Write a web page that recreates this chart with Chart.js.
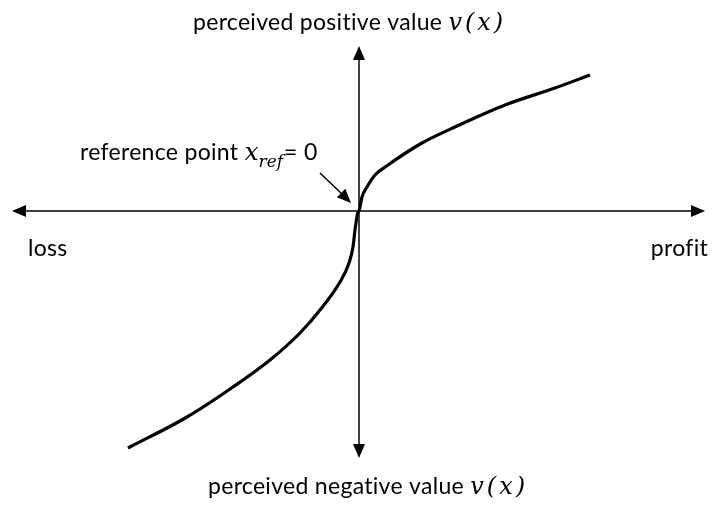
<!DOCTYPE html>
<html>
<head>
<meta charset="utf-8">
<script src="https://cdn.jsdelivr.net/npm/chart.js@4"></script>
<style>
  html, body { margin: 0; padding: 0; background: #fff; }
  #chart { display: block; }
</style>
</head>
<body>
<canvas id="chart" width="713" height="505"></canvas>
<script>
// value function (origin = reference point)
const gainX = [0, 1, 3, 8, 16, 29, 63, 96, 146, 196, 231];
const gainY = [0, 4, 14, 24, 36, 46, 68, 84, 106, 123, 136];
const lossX = [-231, -172, -126, -89, -59, -39, -19, -10, -6, -4, -1];
const lossY = [-237, -206, -176, -149, -122, -99, -71, -52, -36, -19, -1];

const axisRange = { xMin: -359, xMax: 354, yMin: -294, yMax: 211 };
const topLabel = 'perceived positive value ';
const bottomLabel = 'perceived negative value ';
const leftLabel = 'loss';
const rightLabel = 'profit';
const refLabel = 'reference point ';

const points = [];
lossX.forEach((x, i) => points.push({ x: x, y: lossY[i] }));
gainX.forEach((x, i) => points.push({ x: x, y: gainY[i] }));

const sans = 'Lato, "Open Sans", sans-serif';
const serif = '"DejaVu Serif", "Liberation Serif", serif';
const fs = 23;

function setSans(ctx) {
    ctx.font = fs + 'px ' + sans;
    ctx.letterSpacing = '0.3px'; // also keeps Lato from joining "ti" / "fi"
}

// draws "text v(x)" with the v(x) part in math italic, starting at x
function drawValueLabel(ctx, text, x, y) {
    setSans(ctx);
    ctx.fillText(text, x, y);
    x += ctx.measureText(text).width;
    ctx.font = 'italic 24px ' + serif;
    ctx.letterSpacing = '3px';
    ctx.fillText('v(x)', x, y);
}

function arrowHead(ctx, x, y, angle, len, half) {
    ctx.save();
    ctx.translate(x, y);
    ctx.rotate(angle);
    ctx.beginPath();
    ctx.moveTo(0, 0);
    ctx.lineTo(-len, -half);
    ctx.lineTo(-len, half);
    ctx.closePath();
    ctx.fill();
    ctx.restore();
}

const axesPlugin = {
    id: 'axesPlugin',
    beforeDatasetsDraw(chart) {
        const ctx = chart.ctx;
        const sx = chart.scales.x, sy = chart.scales.y;
        const ox = sx.getPixelForValue(0), oy = sy.getPixelForValue(0);
        ctx.save();
        ctx.strokeStyle = '#000';
        ctx.fillStyle = '#000';
        ctx.lineWidth = 1.5;
        // horizontal axis
        ctx.beginPath();
        ctx.moveTo(14, oy);
        ctx.lineTo(chart.width - 10, oy);
        ctx.stroke();
        arrowHead(ctx, 12, oy, Math.PI, 14, 6);
        arrowHead(ctx, chart.width - 8, oy, 0, 14, 6);
        // vertical axis
        ctx.beginPath();
        ctx.moveTo(ox, 48);
        ctx.lineTo(ox, 456);
        ctx.stroke();
        arrowHead(ctx, ox, 46, -Math.PI / 2, 14, 6);
        arrowHead(ctx, ox, 458, Math.PI / 2, 14, 6);
        ctx.restore();
    },
    afterDraw(chart) {
        const ctx = chart.ctx;
        const sx = chart.scales.x, sy = chart.scales.y;
        const ox = sx.getPixelForValue(0), oy = sy.getPixelForValue(0);
        ctx.save();
        ctx.fillStyle = '#000';
        ctx.textBaseline = 'alphabetic';
        ctx.textAlign = 'left';
        drawValueLabel(ctx, topLabel, 193, 30);
        drawValueLabel(ctx, bottomLabel, 208, 494);

        setSans(ctx);
        ctx.fillText(leftLabel, 28, oy + 45);
        ctx.textAlign = 'right';
        ctx.fillText(rightLabel, 708, oy + 45);

        // reference point label
        ctx.textAlign = 'left';
        let x = 80;
        const y = 160;
        setSans(ctx);
        ctx.fillText(refLabel, x, y);
        x += ctx.measureText(refLabel).width;
        ctx.letterSpacing = '0px';
        ctx.font = 'italic 25px ' + serif;
        ctx.fillText('x', x, y);
        x += ctx.measureText('x').width;
        ctx.font = 'italic 17px ' + serif;
        ctx.fillText('ref', x, y + 7);
        x += ctx.measureText('ref').width + 1;
        setSans(ctx);
        ctx.fillText('= 0', x, y);

        // pointer arrow to the origin
        ctx.strokeStyle = '#000';
        ctx.lineWidth = 1.5;
        ctx.beginPath();
        ctx.moveTo(ox - 39, oy - 38);
        ctx.lineTo(ox - 17, oy - 17);
        ctx.stroke();
        arrowHead(ctx, ox - 8, oy - 8, Math.PI / 4, 14, 6);
        ctx.restore();
    }
};

new Chart(document.getElementById('chart'), {
    type: 'line',
    data: {
        datasets: [{
            data: points,
            borderColor: '#000',
            borderWidth: 3.2,
            pointRadius: 0,
            fill: false,
            cubicInterpolationMode: 'monotone'
        }]
    },
    options: {
        responsive: false,
        animation: false,
        layout: { padding: 0 },
        plugins: { legend: { display: false }, tooltip: { enabled: false } },
        scales: {
            x: { type: 'linear', min: axisRange.xMin, max: axisRange.xMax, display: false },
            y: { type: 'linear', min: axisRange.yMin, max: axisRange.yMax, display: false }
        }
    },
    plugins: [axesPlugin]
});
</script>
</body>
</html>
